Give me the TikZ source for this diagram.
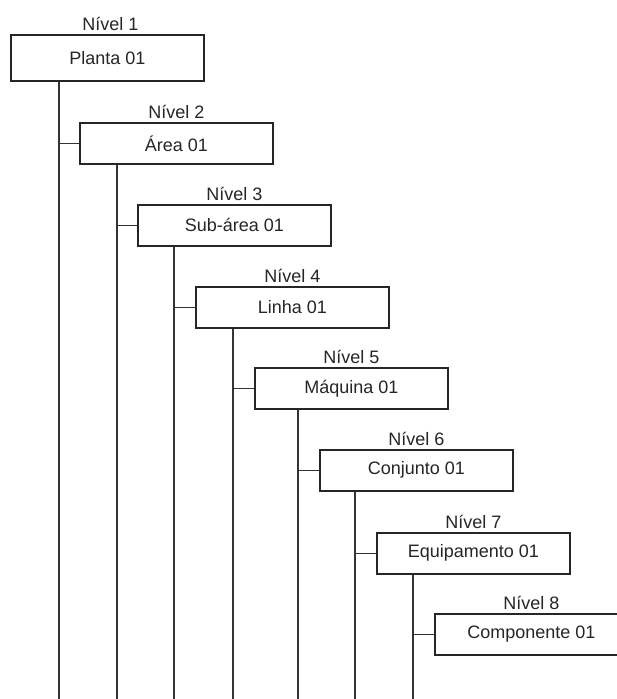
\documentclass[tikz,border=0pt]{standalone}
\usepackage{fontspec}
\setmainfont{Liberation Sans}
\begin{document}
\begin{tikzpicture}[x=1pt,y=1pt,
  boxnode/.style={draw=black!85, line width=1.6pt, minimum width=193pt, minimum height=41pt, anchor=north west, inner sep=0pt, text=black!85, font=\fontsize{18}{20}\selectfont},
  levelnode/.style={anchor=base, inner sep=0pt, text=black!85, font=\fontsize{18}{20}\selectfont},
  wire/.style={draw=black!80, line width=1.6pt}]
\clip (0,0) rectangle (617,-699);
\fill[white] (0,0) rectangle (617,-699);
% boxes
\node[boxnode, minimum height=46pt] (b1) at (10,-34) {Planta 01};
\node[boxnode] (b2) at (79,-122) {Área 01};
\node[boxnode] (b3) at (137,-204) {Sub-área 01};
\node[boxnode] (b4) at (195,-286) {Linha 01};
\node[boxnode] (b5) at (254,-367) {Máquina 01};
\node[boxnode] (b6) at (319,-449) {Conjunto 01};
\node[boxnode] (b7) at (376,-532) {Equipamento 01};
\node[boxnode] (b8) at (434,-613) {Componente 01};
% level labels
\node[levelnode] (l1) at ([xshift=3pt,yshift=4pt]b1.north) {Nível 1};
\node[levelnode] (l2) at ([yshift=4pt]b2.north) {Nível 2};
\node[levelnode] (l3) at ([yshift=4pt]b3.north) {Nível 3};
\node[levelnode] (l4) at ([yshift=4pt]b4.north) {Nível 4};
\node[levelnode] (l5) at ([yshift=4pt]b5.north) {Nível 5};
\node[levelnode] (l6) at ([yshift=4pt]b6.north) {Nível 6};
\node[levelnode] (l7) at ([yshift=4pt]b7.north) {Nível 7};
\node[levelnode] (l8) at ([yshift=4pt]b8.north) {Nível 8};
% trunk start points and free ends
\coordinate (s1) at ([xshift=49pt]b1.south west);
\coordinate (s2) at ([xshift=38pt]b2.south west);
\coordinate (s3) at ([xshift=37pt]b3.south west);
\coordinate (s4) at ([xshift=38pt]b4.south west);
\coordinate (s5) at ([xshift=44pt]b5.south west);
\coordinate (s6) at ([xshift=36pt]b6.south west);
\coordinate (s7) at ([xshift=37pt]b7.south west);
\foreach \i in {1,...,7} {
  \coordinate (e\i) at (s\i |- 0,-699);
  \draw[wire] (s\i) -- (e\i);
}
% stubs
\draw[wire] (b2.west) -- (b2.west -| s1);
\draw[wire] (b3.west) -- (b3.west -| s2);
\draw[wire] (b4.west) -- (b4.west -| s3);
\draw[wire] (b5.west) -- (b5.west -| s4);
\draw[wire] (b6.west) -- (b6.west -| s5);
\draw[wire] (b7.west) -- (b7.west -| s6);
\draw[wire] (b8.west) -- (b8.west -| s7);
\end{tikzpicture}
\end{document}
